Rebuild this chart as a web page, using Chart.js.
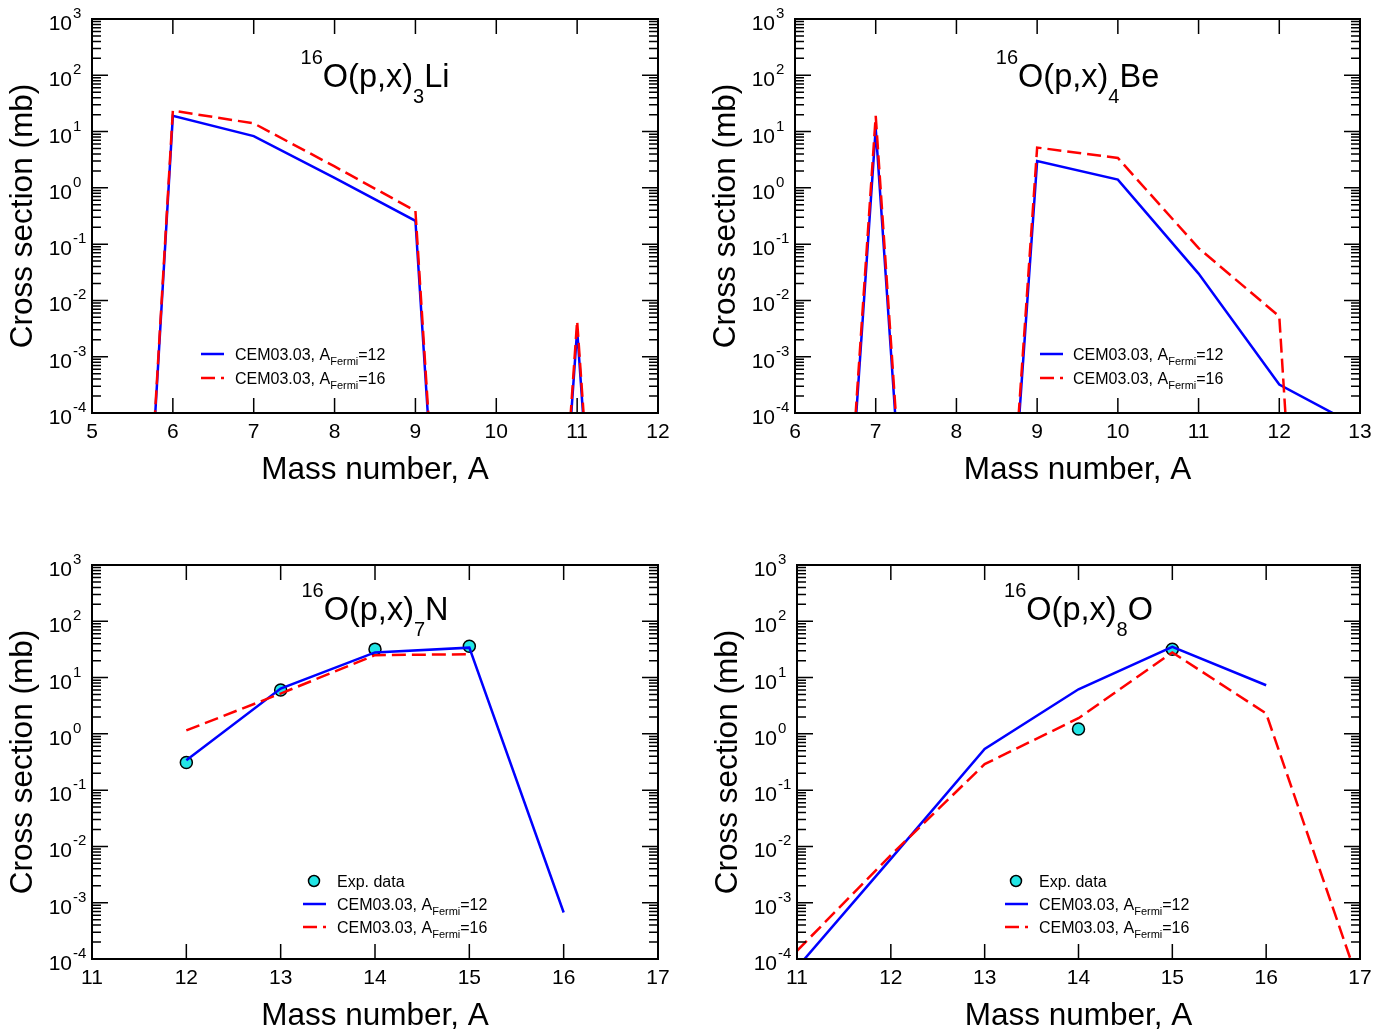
<!DOCTYPE html>
<html>
<head>
<meta charset="utf-8">
<script src="https://cdn.jsdelivr.net/npm/chart.js@4.4.1/dist/chart.umd.min.js"></script>
<style>
  body { margin: 0; background: #fff; width: 1395px; height: 1035px; position: relative; overflow: hidden; }
  .panel { position: absolute; }
</style>
</head>
<body>
<div class="panel" style="left:0;top:0;width:697px;height:517px"><canvas id="c0"></canvas></div>
<div class="panel" style="left:697px;top:0;width:698px;height:517px"><canvas id="c1"></canvas></div>
<div class="panel" style="left:0;top:517px;width:697px;height:518px"><canvas id="c2"></canvas></div>
<div class="panel" style="left:697px;top:517px;width:698px;height:518px"><canvas id="c3"></canvas></div>
<script>
// --- données (mb), 1e-23 etc. = section nulle (hors échelle) ---
const liMass = [5, 6, 7, 8, 9, 10, 11, 12];
const liA12  = [1e-23, 19, 8.3, 1.5, 0.26, 1e-23, 3.0e-3, 1e-23];
const liA16  = [1e-23, 23.5, 14, 2.4, 0.39, 1e-23, 4.3e-3, 1e-23];

const beMass = [6, 7, 8, 9, 10, 11, 12, 13];
const beA12  = [1e-20, 11.4, 1e-20, 3.0, 1.4, 0.03, 3.2e-4, 5.5e-5];
const beA16  = [1e-20, 19, 1e-20, 5.2, 3.4, 0.085, 5.2e-3, 1e-25];

const nMass = [12, 13, 14, 15, 16];
const nA12  = [0.34, 6.4, 28, 34, 6.7e-4];
const nA16  = [1.15, 5.2, 25, 26];
const nExpMass = [12, 13, 14, 15];
const nExp     = [0.31, 6.0, 32, 36];

const oMass = [11, 12, 13, 14, 15, 16, 17];
const oA12  = [7e-5, 6.0e-3, 0.54, 6.2, 35, 7.3];
const oA16  = [1.4e-4, 7.0e-3, 0.29, 1.9, 28, 2.3, 3.2e-5];
const oExpMass = [14, 15];
const oExp     = [1.22, 31.8];

const liTicks = [5, 6, 7, 8, 9, 10, 11, 12];
const beTicks = [6, 7, 8, 9, 10, 11, 12, 13];
const nTicks  = [11, 12, 13, 14, 15, 16, 17];
const yExponents = [3, 2, 1, 0, -1, -2, -3, -4];

const FONT = '"Liberation Sans", Arial, sans-serif';
const BLUE = '#0000ff', RED = '#ff0000', CYAN = '#22e5e5';
const DASH = [14, 6];

function pts(xs, ys) { return ys.map((v, i) => ({ x: xs[i], y: v })); }

// texte avec indices / exposants : [texte, taille, décalage vertical]
function richText(ctx, parts, x, y, align) {
  let w = 0;
  parts.forEach(p => { ctx.font = p[1] + 'px ' + FONT; w += ctx.measureText(p[0]).width; });
  let cx = align === 'center' ? x - w / 2 : x;
  ctx.textAlign = 'left';
  parts.forEach(p => {
    ctx.font = p[1] + 'px ' + FONT;
    ctx.fillText(p[0], cx, y + p[2]);
    cx += ctx.measureText(p[0]).width;
  });
}

const framePlugin = {
  id: 'frame',
  afterDatasetsDraw(chart, args, o) {
    const { ctx, chartArea: a } = chart;
    const x = chart.scales.x, y = chart.scales.y;
    ctx.save();
    ctx.strokeStyle = '#000';
    ctx.fillStyle = '#000';
    ctx.lineWidth = 1.5;
    ctx.beginPath();
    // graduations log (majeures + mineures), des deux côtés
    for (let e = -4; e <= 2; e++) {
      for (let m = 1; m < 10; m++) {
        const py = y.getPixelForValue(m * Math.pow(10, e));
        const len = m === 1 ? 16 : 9;
        ctx.moveTo(a.left, py); ctx.lineTo(a.left + len, py);
        ctx.moveTo(a.right, py); ctx.lineTo(a.right - len, py);
      }
    }
    o.xTicks.forEach(t => {
      const px = x.getPixelForValue(t);
      ctx.moveTo(px, a.bottom); ctx.lineTo(px, a.bottom - 15);
      ctx.moveTo(px, a.top); ctx.lineTo(px, a.top + 15);
    });
    ctx.stroke();
    ctx.lineWidth = 2;
    ctx.strokeRect(a.left, a.top, a.right - a.left, a.bottom - a.top);

    // étiquettes axe y : 10^n
    ctx.textBaseline = 'alphabetic';
    yExponents.forEach(e => {
      const py = y.getPixelForValue(Math.pow(10, e));
      ctx.font = '21px ' + FONT;
      ctx.textAlign = 'right';
      ctx.fillText('10', a.left - 20, py + 11);
      ctx.font = '15px ' + FONT;
      ctx.textAlign = 'left';
      ctx.fillText(String(e), a.left - 19, py - 1);
    });
    // étiquettes axe x
    ctx.font = '21px ' + FONT;
    ctx.textAlign = 'center';
    o.xTicks.forEach(t => ctx.fillText(String(t), x.getPixelForValue(t), a.bottom + 25));

    // titres des axes
    ctx.font = '31.5px ' + FONT;
    ctx.fillText('Mass number, A', (a.left + a.right) / 2, a.bottom + 66);
    ctx.save();
    ctx.translate(a.left - 60, (a.top + a.bottom) / 2);
    ctx.rotate(-Math.PI / 2);
    ctx.fillText('Cross section (mb)', 0, 0);
    ctx.restore();

    // titre du panneau
    richText(ctx, [['16', 20, -23], ['O(p,x)', 32.5, 0], [o.z, 20, 16], [o.el, 32.5, 0]],
      (a.left + a.right) / 2, a.top + o.titleDy, 'center');

    // légende
    const lg = o.legend;
    let row = 0;
    const rowY = () => a.bottom + lg.rows[row];
    if (o.hasExp) {
      const ry = rowY();
      ctx.beginPath();
      ctx.arc(a.left + lg.lineX + 11, ry, 5.5, 0, Math.PI * 2);
      ctx.fillStyle = CYAN; ctx.fill();
      ctx.lineWidth = 1.5; ctx.strokeStyle = '#000'; ctx.stroke();
      ctx.fillStyle = '#000';
      richText(ctx, [['Exp. data', 16, 0]], a.left + lg.textX, ry + 6, 'left');
      row++;
    }
    [[BLUE, [], '12'], [RED, DASH, '16']].forEach(s => {
      const ry = rowY();
      ctx.beginPath();
      ctx.setLineDash(s[1]);
      ctx.lineWidth = 2.5; ctx.strokeStyle = s[0];
      ctx.moveTo(a.left + lg.lineX, ry); ctx.lineTo(a.left + lg.lineX + 23, ry);
      ctx.stroke();
      ctx.setLineDash([]);
      ctx.fillStyle = '#000';
      richText(ctx, [['CEM03.03, A', 16, 0], ['Fermi', 11, 5], ['=' + s[2], 16, 0]],
        a.left + lg.textX, ry + 6, 'left');
      row++;
    });
    ctx.restore();
  }
};

const panels = [
  { id: 'c0', xMin: 5, xMax: 12, xTicks: liTicks, mass: liMass, a12: liA12, a16: liA16,
    z: '3', el: 'Li', titleDy: 68, pad: { left: 92, right: 39, top: 19, bottom: 104 },
    legend: { lineX: 109, textX: 143, rows: [-59, -35] } },
  { id: 'c1', xMin: 6, xMax: 13, xTicks: beTicks, mass: beMass, a12: beA12, a16: beA16,
    z: '4', el: 'Be', titleDy: 68, pad: { left: 98, right: 35, top: 19, bottom: 104 },
    legend: { lineX: 245, textX: 278, rows: [-59, -35] } },
  { id: 'c2', xMin: 11, xMax: 17, xTicks: nTicks, mass: nMass, a12: nA12, a16: nA16,
    expMass: nExpMass, exp: nExp,
    z: '7', el: 'N', titleDy: 55, pad: { left: 92, right: 39, top: 48, bottom: 76 },
    legend: { lineX: 211, textX: 245, rows: [-78, -55, -32] } },
  { id: 'c3', xMin: 11, xMax: 17, xTicks: nTicks, mass: oMass, a12: oA12, a16: oA16,
    expMass: oExpMass, exp: oExp,
    z: '8', el: 'O', titleDy: 55, pad: { left: 100, right: 35, top: 48, bottom: 76 },
    legend: { lineX: 208, textX: 242, rows: [-78, -55, -32] } }
];

panels.forEach(p => {
  const datasets = [
    { label: 'A16', data: pts(p.mass, p.a16), borderColor: RED, borderWidth: 2.5,
      borderDash: DASH, pointRadius: 0, fill: false, tension: 0, clip: 0 },
    { label: 'A12', data: pts(p.mass, p.a12), borderColor: BLUE, borderWidth: 2.5,
      pointRadius: 0, fill: false, tension: 0, clip: 0 }
  ];
  if (p.exp) {
    datasets.push({ label: 'Exp', data: pts(p.expMass, p.exp), showLine: false,
      pointRadius: 6, pointBackgroundColor: CYAN, pointBorderColor: '#000', pointBorderWidth: 1.5 });
  }
  new Chart(document.getElementById(p.id), {
    type: 'line',
    data: { datasets: datasets },
    options: {
      responsive: true, maintainAspectRatio: false, animation: false,
      layout: { padding: p.pad },
      scales: {
        x: { type: 'linear', min: p.xMin, max: p.xMax, display: false },
        y: { type: 'logarithmic', min: 1e-4, max: 1e3, display: false }
      },
      plugins: {
        legend: { display: false }, tooltip: { enabled: false },
        frame: { xTicks: p.xTicks, z: p.z, el: p.el, titleDy: p.titleDy, legend: p.legend, hasExp: !!p.exp }
      }
    },
    plugins: [framePlugin]
  });
});
</script>
</body>
</html>
